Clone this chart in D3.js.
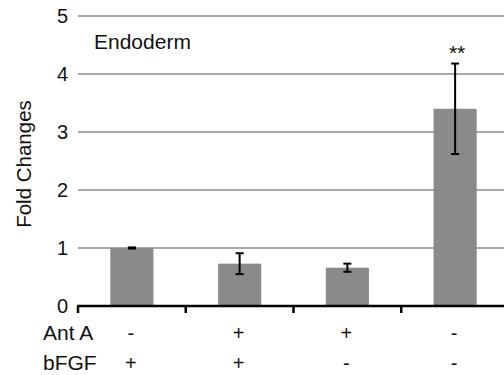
<!DOCTYPE html>
<html>
<head>
<meta charset="utf-8">
<script src="https://cdn.jsdelivr.net/npm/d3@7"></script>
<style>
  body { margin: 0; background: #fff; }
  text { font-family: "Liberation Sans", Arial, Helvetica, sans-serif; fill: #111; }
</style>
</head>
<body>
<script>
// chart data
var groups = ["g1", "g2", "g3", "g4"];
var foldValues = [1.0, 0.73, 0.66, 3.40];
var foldErrors = [0.01, 0.18, 0.07, 0.78];
var antA = ["-", "+", "+", "-"];
var bFGF = ["+", "+", "-", "-"];
var yTicks = [0, 1, 2, 3, 4, 5];
var stars = ["", "", "", "**"];

var w = 504, h = 375;

var svg = d3.select("body").append("svg")
  .attr("width", w)
  .attr("height", h);

// scales
var x = d3.scaleBand()
  .domain(groups)
  .range([78, 509])
  .paddingInner(0.6)
  .paddingOuter(0.3);

var y = d3.scaleLinear()
  .domain([0, 5])
  .range([306, 16]);

// gridlines
svg.selectAll(".grid")
  .data(yTicks.filter(function(d) { return d > 0; }))
  .enter().append("line")
  .attr("class", "grid")
  .attr("x1", 78).attr("x2", w)
  .attr("y1", function(d) { return y(d); })
  .attr("y2", function(d) { return y(d); })
  .style("stroke", "#a8a8a8")
  .style("stroke-width", 2);

// y tick labels (no axis line)
svg.selectAll(".ylab")
  .data(yTicks)
  .enter().append("text")
  .attr("class", "ylab")
  .attr("x", 68)
  .attr("y", function(d) { return y(d); })
  .attr("dy", "0.36em")
  .attr("text-anchor", "end")
  .style("font-size", "20px")
  .text(function(d) { return d; });

// bars
svg.selectAll(".bar")
  .data(foldValues)
  .enter().append("rect")
  .attr("class", "bar")
  .attr("x", function(d, i) { return x(groups[i]); })
  .attr("width", x.bandwidth())
  .attr("y", function(d) { return y(d); })
  .attr("height", function(d) { return y(0) - y(d); })
  .style("fill", "#8a8a8a");

// error bars
var cx = function(i) { return x(groups[i]) + x.bandwidth() / 2; };
var err = svg.selectAll(".err")
  .data(foldValues)
  .enter().append("g")
  .attr("class", "err")
  .style("stroke", "#000")
  .style("stroke-width", 2);
err.append("line")
  .attr("x1", function(d, i) { return cx(i); })
  .attr("x2", function(d, i) { return cx(i); })
  .attr("y1", function(d, i) { return y(d + foldErrors[i]); })
  .attr("y2", function(d, i) { return y(d - foldErrors[i]); });
err.append("line")
  .attr("x1", function(d, i) { return cx(i) - 4; })
  .attr("x2", function(d, i) { return cx(i) + 4; })
  .attr("y1", function(d, i) { return y(d + foldErrors[i]); })
  .attr("y2", function(d, i) { return y(d + foldErrors[i]); });
err.append("line")
  .attr("x1", function(d, i) { return cx(i) - 4; })
  .attr("x2", function(d, i) { return cx(i) + 4; })
  .attr("y1", function(d, i) { return y(d - foldErrors[i]); })
  .attr("y2", function(d, i) { return y(d - foldErrors[i]); });

// significance stars
svg.selectAll(".star")
  .data(stars)
  .enter().append("text")
  .attr("class", "star")
  .attr("x", function(d, i) { return cx(i) + 2; })
  .attr("y", 60)
  .attr("text-anchor", "middle")
  .style("font-size", "21px")
  .text(function(d) { return d; });

// x axis line with ticks at band boundaries
var step = x.step();
var bounds = [78, 78 + step, 78 + 2 * step, 78 + 3 * step];
svg.append("line")
  .attr("x1", 77).attr("x2", w)
  .attr("y1", y(0)).attr("y2", y(0))
  .style("stroke", "#000")
  .style("stroke-width", 2.5);
svg.selectAll(".xtick")
  .data(bounds)
  .enter().append("line")
  .attr("class", "xtick")
  .attr("x1", function(d) { return d; })
  .attr("x2", function(d) { return d; })
  .attr("y1", y(0))
  .attr("y2", y(0) + 7)
  .style("stroke", "#000")
  .style("stroke-width", 2.5);

// condition rows
var rows = [{name: "Ant A", vals: antA, yy: 340}, {name: "bFGF", vals: bFGF, yy: 370}];
rows.forEach(function(r) {
  svg.append("text")
    .attr("x", 43)
    .attr("y", r.yy)
    .style("font-size", "21px")
    .text(r.name);
  svg.selectAll(null)
    .data(r.vals)
    .enter().append("text")
    .attr("x", function(d, i) { return cx(i) - 1; })
    .attr("y", r.yy)
    .attr("text-anchor", "middle")
    .style("font-size", "20px")
    .text(function(d) { return d; });
});

// titles
svg.append("text")
  .attr("x", 94)
  .attr("y", 49)
  .style("font-size", "21px")
  .text("Endoderm");

svg.append("text")
  .attr("transform", "translate(31,164) rotate(-90)")
  .attr("text-anchor", "middle")
  .style("font-size", "20.5px")
  .text("Fold Changes");
</script>
</body>
</html>
